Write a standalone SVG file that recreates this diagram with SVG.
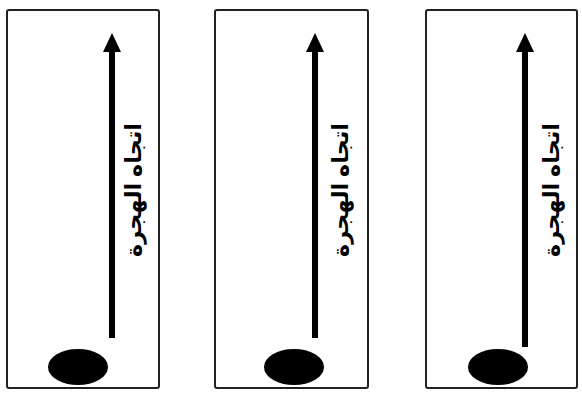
<svg xmlns="http://www.w3.org/2000/svg" width="582" height="399" viewBox="0 0 582 399">
<style>
.panel{fill:#fff;stroke:#222;stroke-width:2}
.shaft{stroke:#000;stroke-width:6}
.head{fill:#000}
.blob{fill:#000}
.lbl{font-family:"Noto Sans","DejaVu Sans",sans-serif;font-size:22px;font-weight:bold;fill:#000}
</style>
<rect width="582" height="399" fill="#fff"/>
<g id="panel1">
<rect class="panel" x="7" y="10" width="152" height="378" rx="2"/>
<ellipse class="blob" cx="78" cy="367" rx="30" ry="18"/>
<text class="lbl" transform="translate(132,190) rotate(-90)" text-anchor="middle" dominant-baseline="central" textLength="134" lengthAdjust="spacingAndGlyphs">اتجاه الهجرة</text>
</g>
<g id="panel2">
<rect class="panel" x="215" y="10" width="153" height="378" rx="2"/>
<ellipse class="blob" cx="294" cy="367" rx="30" ry="18"/>
<text class="lbl" transform="translate(339,190) rotate(-90)" text-anchor="middle" dominant-baseline="central" textLength="134" lengthAdjust="spacingAndGlyphs">اتجاه الهجرة</text>
</g>
<g id="panel3">
<rect class="panel" x="426" y="10" width="151" height="378" rx="2"/>
<ellipse class="blob" cx="498" cy="367" rx="30" ry="18"/>
<text class="lbl" transform="translate(550,190) rotate(-90)" text-anchor="middle" dominant-baseline="central" textLength="134" lengthAdjust="spacingAndGlyphs">اتجاه الهجرة</text>
</g>
<g id="connectors">
<line class="shaft" x1="112" y1="338" x2="112" y2="50"/>
<polygon class="head" points="112,33 103,52 121,52"/>
<line class="shaft" x1="315" y1="338" x2="315" y2="50"/>
<polygon class="head" points="315,33 306,52 324,52"/>
<line class="shaft" x1="525" y1="347" x2="525" y2="50"/>
<polygon class="head" points="525,33 516,52 534,52"/>
</g>
</svg>
